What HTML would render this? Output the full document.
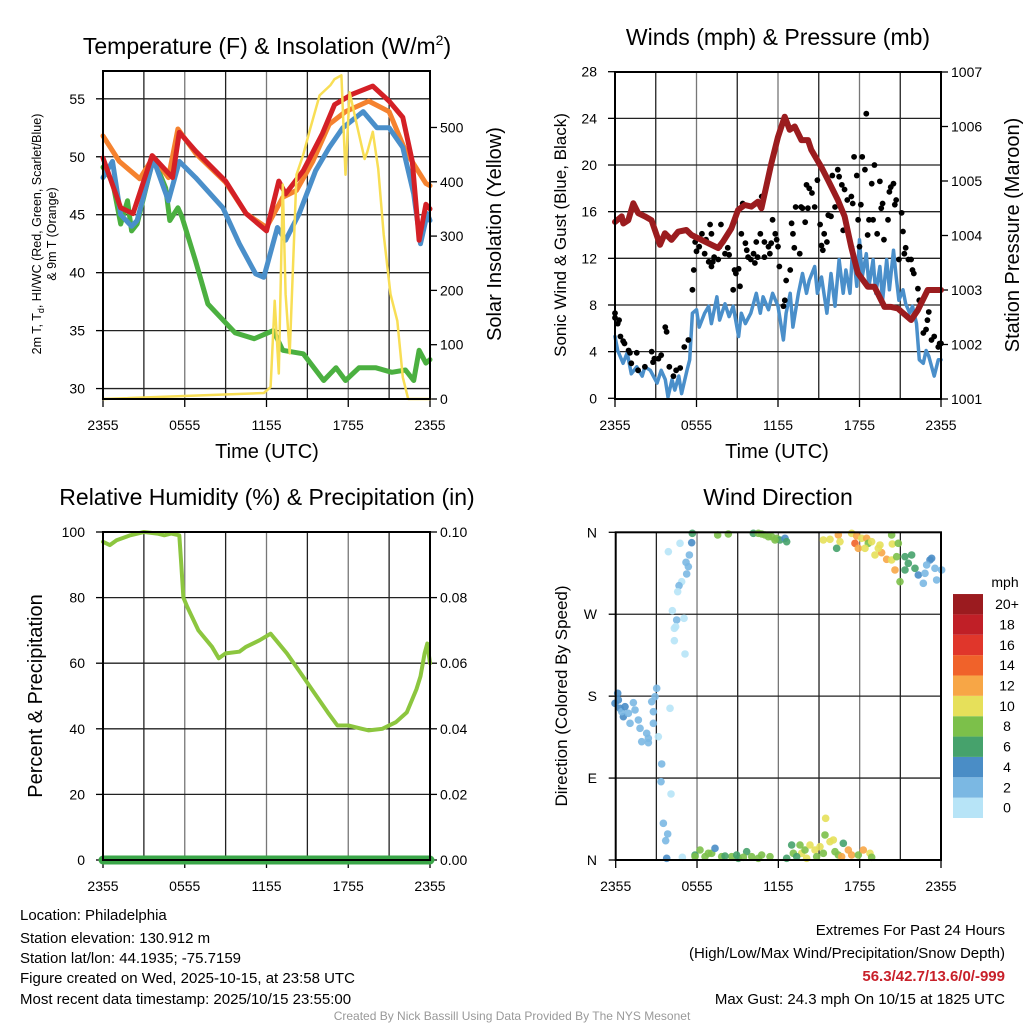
<!DOCTYPE html>
<html><head><meta charset="utf-8"><style>
body{margin:0;background:#fff;}
svg{display:block;font-family:"Liberation Sans",sans-serif;}
</style></head><body>
<svg id="s" width="1024" height="1024" viewBox="0 0 1024 1024">
<g id="texts">
<text x="267" y="54" font-size="23" text-anchor="middle">Temperature (F) &amp; Insolation (W/m<tspan dy="-9" font-size="14">2</tspan><tspan dy="9">)</tspan></text>
<text x="778" y="45" font-size="23" text-anchor="middle">Winds (mph) &amp; Pressure (mb)</text>
<text x="267" y="505" font-size="23" text-anchor="middle">Relative Humidity (%) &amp; Precipitation (in)</text>
<text x="778" y="505" font-size="23" text-anchor="middle">Wind Direction</text>
<text transform="translate(41,234) rotate(-90)" font-size="12.5" text-anchor="middle">2m T, T<tspan dy="3" font-size="9">d</tspan><tspan dy="-3">, HI/WC (Red, Green, Scarlet/Blue)</tspan></text>
<text transform="translate(56,234) rotate(-90)" font-size="12.5" text-anchor="middle">&amp; 9m T (Orange)</text>
<text transform="translate(501,234) rotate(-90)" font-size="20" text-anchor="middle">Solar Insolation (Yellow)</text>
<text transform="translate(566,235) rotate(-90)" font-size="17" text-anchor="middle">Sonic Wind &amp; Gust (Blue, Black)</text>
<text transform="translate(1019,235) rotate(-90)" font-size="20" text-anchor="middle">Station Pressure (Maroon)</text>
<text transform="translate(42,696) rotate(-90)" font-size="20" text-anchor="middle">Percent &amp; Precipitation</text>
<text transform="translate(567,696) rotate(-90)" font-size="17" text-anchor="middle">Direction (Colored By Speed)</text>
<text x="267" y="458" font-size="20" text-anchor="middle">Time (UTC)</text>
<text x="777" y="458" font-size="20" text-anchor="middle">Time (UTC)</text>
<text x="1005" y="587" font-size="14" text-anchor="middle">mph</text>
<g font-size="15">
<text x="20" y="920">Location: Philadelphia</text>
<text x="20" y="943">Station elevation: 130.912 m</text>
<text x="20" y="963">Station lat/lon: 44.1935; -75.7159</text>
<text x="20" y="983">Figure created on Wed, 2025-10-15, at 23:58 UTC</text>
<text x="20" y="1004">Most recent data timestamp: 2025/10/15 23:55:00</text>
</g>
<g font-size="15" text-anchor="end">
<text x="1005" y="935">Extremes For Past 24 Hours</text>
<text x="1005" y="958">(High/Low/Max Wind/Precipitation/Snow Depth)</text>
<text x="1005" y="981" fill="#c8202a" font-weight="bold">56.3/42.7/13.6/0/-999</text>
<text x="1005" y="1004">Max Gust: 24.3 mph On 10/15 at 1825 UTC</text>
</g>
<text x="512" y="1020" font-size="12" fill="#999" text-anchor="middle">Created By Nick Bassill Using Data Provided By The NYS Mesonet</text>
</g>
</svg>
<script>
// ---- data ----
const timeTicks = ["2355","0555","1155","1755","2355"];
const redH = [0,1.3,2.2,3.6,5.1,5.6,6.8,9,10.5,12,12.9,13.4,14.7,16.1,17,18.3,19.8,21,22,22.7,23.2,23.7,24];
const redV = [49.9,45.6,45.1,50.1,48.2,52.1,50.5,47.9,45.1,43.6,47.9,46.8,48.8,52,54.5,55.4,56.1,54.8,53.4,49.6,42.8,45.9,45.5];
const blueH = [0,0.7,1.3,2.1,2.5,3.7,4.8,5.6,6.8,8.8,10,11.2,11.8,12.8,13.4,14.4,15.6,16.6,17.6,19.1,20.1,21,22,22.8,23.3,23.8,24];
const blueV = [48.2,49.6,45,44,44.5,49.8,46.2,49.6,48.2,45.6,42.5,39.9,39.6,43.9,42.8,45.1,48.8,50.8,52.5,53.9,52.5,52.5,50.8,46.8,42.5,45.1,44.5];
const greenH = [0,0.7,1.3,1.8,2.1,2.5,3.7,4.6,4.9,5.5,5.8,6.8,7.7,8.5,9.7,11.1,12.5,13.2,14.7,16.2,17.1,17.8,18.8,20,21.2,22.2,22.8,23.2,23.7,24];
const greenV = [49.1,47.9,44.2,46.2,43.6,44.2,49.9,47.3,44.5,45.6,44.8,41,37.3,36.3,34.8,34.3,35,33.3,33,30.7,31.8,30.7,31.8,31.8,31.4,31.6,30.7,33.3,32.2,32.5];
const orangeH = [0,1.2,2.7,3.7,4.8,5.5,6.8,9,10.5,12,13.2,14.2,15.4,16.6,17.8,19.5,21,22.2,23.7,24];
const orangeV = [51.8,49.6,48.1,50,48.2,52.4,50.3,47.8,45.1,43.9,46.5,47.1,49.6,52.8,53.9,54.8,53.9,50.5,47.7,47.5];
const solarH = [0,11.8,12.3,12.6,12.9,13.2,13.4,13.7,14.2,14.7,15.2,15.9,16.7,17,17.5,17.8,18.1,18.7,19.2,19.4,19.8,20.2,20.6,21.1,21.6,22,22.4,24];
const solarV = [0,11,22,181,47,395,193,84,413,450,497,559,578,589,596,413,565,497,442,455,492,424,303,193,144,40,0,0];
const presH = [0,0.49,0.61,0.98,1.35,1.71,2.2,2.69,3.31,3.67,4.16,4.65,5.26,5.63,6.37,7.59,7.96,8.57,9.06,9.55,10.04,10.53,10.78,11.02,11.51,12.0,12.49,12.86,13.23,13.72,14.21,14.45,15.18,15.67,16.41,16.9,17.39,17.88,18.61,19.1,19.84,20.33,20.82,21.8,22.29,23.02,24];
const presV = [1004.25,1004.35,1004.22,1004.28,1004.59,1004.41,1004.35,1004.28,1003.83,1004.04,1003.92,1004.07,1004.10,1004.01,1003.92,1003.77,1003.89,1004.13,1004.47,1004.56,1004.53,1004.62,1004.50,1004.77,1005.32,1005.81,1006.18,1005.94,1006.0,1005.75,1005.75,1005.57,1005.26,1005.02,1004.65,1004.35,1003.79,1003.31,1003.06,1003.06,1002.69,1002.69,1002.66,1002.45,1002.63,1003.0,1003.0];
const windH = [0,0.2,0.6,0.9,1.2,1.6,2.0,2.2,2.6,3.1,3.4,3.7,3.9,4.2,4.4,4.7,4.9,5.3,5.5,5.7,6.0,6.2,6.6,6.9,7.1,7.5,7.7,8.1,8.4,8.7,9.1,9.3,9.6,10.0,10.4,10.7,10.9,11.3,11.6,12.0,12.4,12.6,12.9,13.1,13.5,13.8,14.1,14.3,14.7,14.9,15.2,15.6,15.9,16.2,16.5,16.8,17.0,17.3,17.5,17.8,18.0,18.2,18.5,18.7,19.0,19.2,19.5,19.7,20.0,20.2,20.5,20.7,20.9,21.2,21.4,21.7,21.9,22.2,22.4,22.7,22.9,23.1,23.5,23.8,24.0];
const windV = [5.3,4.1,3.0,3.9,2.1,2.7,1.9,2.7,2.4,1.3,2.4,1.6,0.1,1.6,0.7,1.9,0.4,2.4,3.3,7.3,7.6,6.1,7.3,7.9,6.4,8.7,6.7,8.1,7.0,7.9,5.3,7.3,6.4,7.3,9.0,7.3,8.7,7.6,9.0,7.9,5.0,7.3,9.0,6.1,9.0,10.7,9.0,10.1,11.3,9.0,10.4,7.3,10.7,7.9,11.9,9.0,11.0,9.0,13.0,9.6,13.6,10.4,12.4,9.6,11.9,9.0,11.3,8.4,11.9,9.3,12.7,10.4,8.4,9.3,8.1,7.3,7.9,6.4,3.3,3.0,4.1,3.6,1.9,3.3,3.3];
const gustH = [0,0,0.2,0.3,0.4,0.6,0.7,1.0,1.1,1.6,1.2,1.7,2.2,2.7,2.8,2.9,3.2,3.4,3.7,3.8,4.0,4.3,4.5,4.8,5.1,5.4,5.7,5.8,5.9,6.0,6.2,6.4,6.6,6.7,6.9,7.0,7.1,7.1,7.2,7.3,7.6,7.7,7.8,8.1,8.3,8.4,8.7,8.8,8.9,9.1,9.2,9.3,9.4,9.6,9.7,9.8,10.0,10.2,10.3,10.4,10.5,10.7,10.8,11.0,11.0,11.3,11.4,11.5,11.6,11.8,11.9,12.0,12.1,12.4,12.5,12.6,12.9,13.0,13.1,13.2,13.3,13.6,13.7,13.8,14.0,14.1,14.2,14.3,14.5,14.7,14.9,15.1,15.2,15.3,15.4,15.6,15.7,15.9,16.0,16.2,16.4,16.5,16.7,16.8,16.9,17.1,17.4,17.5,17.6,17.8,17.9,18.0,18.1,18.2,18.4,18.5,18.6,18.7,18.9,19.0,19.1,19.3,19.5,19.6,19.7,19.8,20.1,20.2,20.3,20.5,20.6,20.7,20.9,21.1,21.2,21.3,21.4,21.6,21.8,21.9,22.0,22.3,22.4,22.7,22.9,23.0,23.1,23.3,23.5,23.8,23.9,24.0];
const gustV = [7.3,6.9,6.4,6.7,5.3,4.9,4.7,4.1,3.9,3.9,3.0,2.4,2.7,4.0,3.1,3.4,3.4,3.7,6.1,5.7,2.7,1.9,2.4,2.6,4.4,5.0,9.3,11.0,13.4,12.6,13.0,14.1,12.4,13.6,11.7,14.9,14.1,11.3,11.7,12.1,11.9,13.0,14.9,12.4,12.9,12.3,9.3,11.0,10.7,11.1,9.6,14.1,16.7,13.3,12.7,12.1,11.9,12.4,11.6,13.4,12.1,14.1,17.3,13.4,12.1,13.0,12.4,13.3,15.3,14.1,13.6,13.0,11.3,7.9,8.4,10.1,11.0,15.0,14.1,12.9,16.4,12.4,16.4,16.3,15.1,18.3,16.3,18.0,17.6,16.4,18.7,14.9,13.1,12.7,14.1,13.4,15.7,15.6,19.1,16.4,19.6,19.0,18.3,14.4,17.9,17.0,17.3,16.7,20.7,19.1,15.3,13.0,16.6,20.7,19.6,24.4,14.0,15.3,18.4,15.3,20.0,14.1,18.6,16.3,16.7,13.6,15.3,17.7,18.1,18.4,16.6,17.0,11.9,15.9,14.3,12.4,12.9,11.9,11.9,11.0,10.7,9.4,8.4,5.6,5.9,6.7,7.4,5.0,5.3,4.4,4.7,4.7];
const rhH = [0,0.5,1,2,3,4,4.5,5,5.6,5.75,5.9,6.2,7,8,8.5,9,10,10.5,11.5,12.3,12.7,13.5,14.5,15.5,16.5,17.2,18,19,19.5,20.5,21.5,22.3,23,23.3,23.6,23.8,24];
const rhV = [97,96,97.5,99,100,99.5,99,99.5,99,90,80,77,70,65,61.5,63,63.5,65,67,69,67,63,57,51,45,41,41,40,39.5,40,42,45,52,56,63,66,60];
const precipH = [0,24];
const precipV = [0,0];
const dirZx = [38,30,45,55,50,70,85,90,75,100,105,110,125,130,130,140,145,150,155,145,160,195,40,60,170,168,198,175,188,182,185,232,190,225,260,262,253,243,250,245,230,222,218,202,215,237,208,212,208,240,338,370,445,460,480,500,515,525,540,545,470,490,510,655,675,700,705,695,740,755,750,760,770,785,790,780,800,810,825,830,845,820,860,860,862,880,875,870,885,900,910,920,930,900,940,960,975,980,990,1010,955,995,965,270,285,300,320,330,350,380,395,400,425,440,460,470,495,270,310,360,415,545,560,565,585,590,600,605,615,630,635,645,660,662,675,685,690,700,715,730,740,710,760,775,795,800,655,575];
const dirZy = [520,550,565,590,575,580,548,570,610,600,625,665,640,668,655,545,575,530,505,610,650,565,540,560,732,785,822,910,942,962,1015,1012,95,70,68,40,105,127,140,162,185,197,215,272,300,295,325,320,362,402,45,42,40,40,45,50,55,60,55,65,42,50,60,60,58,45,65,85,40,48,70,85,55,55,70,85,65,105,75,98,118,85,120,45,72,70,110,150,185,110,130,105,145,150,165,160,120,115,145,150,190,180,135,1005,990,1010,1000,985,1010,1010,1005,1015,995,1010,1015,1005,1010,1010,1000,1008,1012,1015,975,1000,975,1000,990,1015,975,990,1010,980,945,895,965,960,995,1005,970,990,1005,1010,1005,990,1000,1012,1000,1010];
const dirSpd = [5,5,5,5,3,3,3,3,3,3,3,3,3,3,3,3,3,3,3,3,1,1,5,5,3,3,1,3,3,3,5,1,1,1,5,7,3,3,3,3,1,3,1,1,3,1,1,1,1,1,9,9,7,9,9,9,9,7,5,7,9,9,9,11,11,13,11,7,11,13,15,13,11,13,9,11,11,11,11,13,13,11,11,9,11,9,9,13,9,7,7,7,7,7,5,3,5,5,3,3,3,3,3,7,9,9,9,5,9,9,7,7,7,9,9,9,9,9,9,7,9,7,7,9,9,11,9,11,11,11,9,11,9,11,11,11,9,9,7,13,13,13,9,13,11,9,9,7];
const cbLabels = ["0","2","4","6","8","10","12","14","16","18","20+"];
const cbColors = ["#b7e4f7","#7bb8e3","#4a8dc6","#46a26c","#7cc04a","#e6e05a","#f7a646","#f0622a","#e0362b","#c01f27","#9b1b1f"];

// ---- drawing ----
const NS="http://www.w3.org/2000/svg";
const svg=document.getElementById('s');
function mk(tag,attrs,parent){const e=document.createElementNS(NS,tag);for(const k in attrs)e.setAttribute(k,attrs[k]);(parent||svg).appendChild(e);return e;}
function scale(d0,d1,r0,r1){return v=>r0+(v-d0)/(d1-d0)*(r1-r0);}
function frame(P,name){
  const g=mk('g',{});
  
  
  for(let i=1;i<8;i++){const x=P.x0+(P.x1-P.x0)*i/8;
    const l=mk('line',{x1:x,x2:x,y1:P.y0,y2:P.y1,stroke:i%2?'#222':'#777','stroke-width':1.3},g);
    }
  P.hgrid.forEach(y=>{const l=mk('line',{x1:P.x0,x2:P.x1,y1:y,y2:y,stroke:'#222','stroke-width':1.3},g);
    });
  timeTicks.forEach((t,i)=>{const x=P.x0+(P.x1-P.x0)*i/4;
    const tx=mk('text',{x:x,y:P.y1+31,'font-size':14,'text-anchor':'middle'},g);tx.textContent=t;
    
    mk('line',{x1:x,x2:x,y1:P.y1,y2:P.y1+8,stroke:'#000','stroke-width':1.3},g);});
  return g;
}
function yTicks(vals,labels,sc,x,anchor,side,P){
  vals.forEach((v,i)=>{const y=sc(v);
    const t=mk('text',{x:x,y:y+5,'font-size':14,'text-anchor':anchor});t.textContent=labels[i];
    
    const xx=side==='l'?P.x0:P.x1;mk('line',{x1:xx,x2:xx+(side==='l'?-7:7),y1:y,y2:y,stroke:'#000','stroke-width':1.3});});
}
function border(P){const r=mk('rect',{x:P.x0,y:P.y0,width:P.x1-P.x0,height:P.y1-P.y0,fill:'none',stroke:'#000','stroke-width':2});
  }
function line(H,V,xs,ys,color,w,name){
  const d=H.map((h,i)=>(i?'L':'M')+xs(h).toFixed(1)+','+ys(V[i]).toFixed(1)).join('');
  const p=mk('path',{d:d,fill:'none',stroke:color,'stroke-width':w,'stroke-linejoin':'round','stroke-linecap':'round'});
  }

// Panel 1
const P1={x0:103,x1:430,y0:71,y1:399};
const t1=scale(57.4,29.1,P1.y0,P1.y1), s1=scale(0,604,399,71), x1=scale(0,24,P1.x0,P1.x1);
P1.hgrid=[30,35,40,45,50,55].map(t1);
frame(P1,'temperature');
yTicks([30,35,40,45,50,55],["30","35","40","45","50","55"],t1,85,'end','l',P1);
yTicks([0,100,200,300,400,500],["0","100","200","300","400","500"],s1,440,'start','r',P1);
line(greenH,greenV,x1,t1,'#4bb040',5,'dewpoint-line');
line(orangeH,orangeV,x1,t1,'#f5822f',5,'temp-9m-line');
line(blueH,blueV,x1,t1,'#4a8fca',5,'heat-index-wind-chill-line');
line(redH,redV,x1,t1,'#d42026',5,'temp-2m-line');
line(solarH,solarV,x1,s1,'#f8de55',2.5,'insolation-line');
border(P1);

// Panel 2
const P2={x0:615,x1:941,y0:72,y1:399};
const w2=scale(0,28,398.3,71.7), p2=scale(1001,1007,399,72), x2=scale(0,24,P2.x0,P2.x1);
P2.hgrid=[4,8,12,16,20,24].map(w2);
frame(P2,'wind');
yTicks([0,4,8,12,16,20,24,28],["0","4","8","12","16","20","24","28"],w2,597,'end','l',P2);
yTicks([1001,1002,1003,1004,1005,1006,1007],["1001","1002","1003","1004","1005","1006","1007"],p2,951,'start','r',P2);
line(windH,windV,x2,w2,'#4a8fca',3.5,'sustained-wind-line');
gustH.forEach((h,i)=>{const c=mk('circle',{cx:x2(h),cy:w2(gustV[i]),r:2.9,fill:'#000'});
  
  });
line(presH,presV,x2,p2,'#9b1c1f',6,'pressure-line');
border(P2);

// Panel 3
const P3={x0:103,x1:430,y0:532,y1:860};
const r3=scale(0,100,860,532), q3=scale(0,0.1,860,532), x3=scale(0,24,P3.x0,P3.x1);
P3.hgrid=[20,40,60,80].map(r3);
frame(P3,'humidity');
yTicks([0,20,40,60,80,100],["0","20","40","60","80","100"],r3,85,'end','l',P3);
yTicks([0,0.02,0.04,0.06,0.08,0.1],["0.00","0.02","0.04","0.06","0.08","0.10"],q3,440,'start','r',P3);
line(rhH,rhV,x3,r3,'#8cc63f',4,'humidity-line');
line(precipH,precipV,x3,q3,'#3aa648',9,'precipitation-line');
border(P3);

// Panel 4
const P4={x0:615.7,x1:941,y0:532.3,y1:860};
const d4=scale(0,360,860,532.3), x4=scale(0,24,P4.x0,P4.x1);
P4.hgrid=[90,180,270].map(d4);
frame(P4,'direction');
yTicks([0,90,180,270,360],["N","E","S","W","N"],d4,597,'end','l',P4);
dirZx.forEach((zx,i)=>{
  const h=(zx-32)/40.67, dir=(1020-dirZy[i])*0.3662;
  const bin=Math.min(10,Math.floor(dirSpd[i]/2));
  const c=mk('circle',{cx:x4(h),cy:d4(dir),r:3.8,fill:cbColors[bin],opacity:0.9});
  
  });
border(P4);
// colorbar
cbColors.forEach((col,i)=>{const y=818-(i+1)*20.36;
  const r=mk('rect',{x:953,y:y,width:30,height:20.36,fill:col});
  
  
  const t=mk('text',{x:1007,y:y+15,'font-size':14,'text-anchor':'middle'});t.textContent=cbLabels[i];
  
  });
</script>
</body></html>
